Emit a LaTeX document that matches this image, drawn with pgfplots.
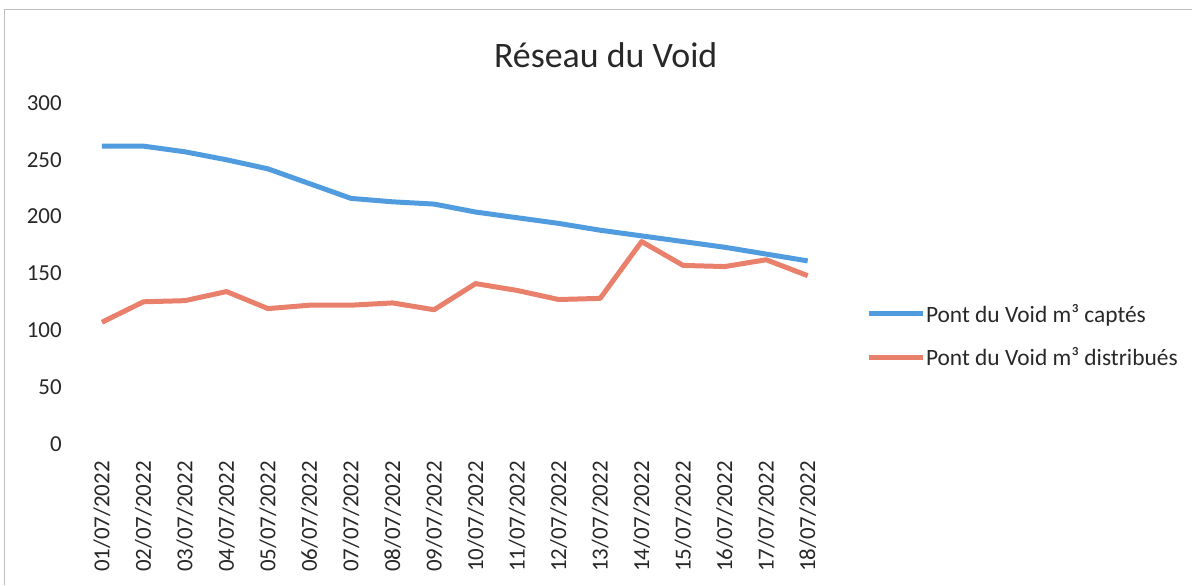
\documentclass[border=0pt]{standalone}
\usepackage{fontspec}
\setmainfont{Carlito}
\usepackage{pgfplots}
\pgfplotsset{compat=1.18}
\definecolor{capte}{RGB}{80,156,222}
\definecolor{distrib}{RGB}{232,128,108}
\definecolor{txt}{RGB}{40,40,40}
\begin{document}
\begin{tikzpicture}
\path (0bp,0bp) rectangle (1192bp,585bp);
\draw[black!25, line width=1bp] (5bp,0bp) -- (5bp,575bp) -- (1192bp,575bp);
\node[font=\fontsize{36}{42}\selectfont, text=txt] at (606bp,530bp) {Réseau du Void};
\begin{axis}[
  at={(81.2bp,141bp)}, anchor=south west,
  scale only axis, width=747.6bp, height=341bp,
  xmin=-0.5, xmax=17.5, ymin=0, ymax=300,
  axis line style={draw=none},
  major tick length=0pt,
  ytick={0,50,100,150,200,250,300},
  xtick={0,...,17},
  xticklabels={01/07/2022,02/07/2022,03/07/2022,04/07/2022,05/07/2022,06/07/2022,07/07/2022,08/07/2022,09/07/2022,10/07/2022,11/07/2022,12/07/2022,13/07/2022,14/07/2022,15/07/2022,16/07/2022,17/07/2022,18/07/2022},
  /pgf/number format/assume math mode=true,
  tick label style={font=\fontsize{23}{27}\selectfont, text=txt},
  xticklabel style={rotate=90, anchor=east, xshift=-14bp, yshift=0bp},
  yticklabel style={anchor=east, xshift=-16bp},
  legend style={at={(1.05,0.317)}, anchor=west, draw=none, fill=none,
    font=\fontsize{23.5}{27}\selectfont, text=txt, inner sep=0pt, row sep=22bp,
    nodes={inner sep=1bp}},
  legend cell align=left,
  legend image code/.code={\draw[#1] (0bp,0bp) -- (54bp,0bp);},
  clip=false
]
\addplot[capte, line width=5bp, line join=round] coordinates {
(0,262) (1,262) (2,257) (3,250) (4,242) (5,229) (6,216) (7,213) (8,211)
(9,204) (10,199) (11,194) (12,188) (13,183) (14,178) (15,173) (16,167) (17,161)};
\addlegendentry{Pont du Void m³ captés}
\addplot[distrib, line width=5bp, line join=round] coordinates {
(0,107) (1,125) (2,126) (3,134) (4,119) (5,122) (6,122) (7,124) (8,118)
(9,141) (10,135) (11,127) (12,128) (13,178) (14,157) (15,156) (16,162) (17,148)};
\addlegendentry{Pont du Void m³ distribués}
\end{axis}
\end{tikzpicture}
\end{document}
